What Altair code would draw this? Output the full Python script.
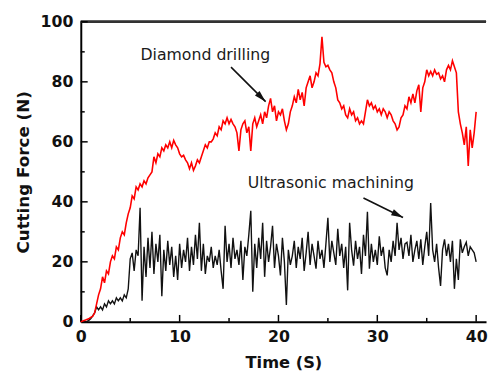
import math
import altair as alt
import pandas as pd

# ---------------- data ----------------
STEP = 0.2  # seconds between samples (t = 0.0 ... 40.0)

red_force = [
    0, 0.3, 0.5, 0.8, 1.0,
    1.5, 1.8, 3, 6, 9,
    11, 15, 13, 17, 16,
    20, 22, 21, 25, 24,
    28, 30, 29, 33, 36,
    38, 42, 41, 45, 44,
    46, 45, 47, 46, 48,
    49, 50, 55, 53, 56,
    55, 58, 57, 59, 58,
    60, 58, 60.5, 59, 58,
    56, 55, 55.5, 54, 53,
    51, 53, 50.5, 52, 54,
    53, 55, 57, 59, 58,
    60, 60, 61, 63, 62,
    65, 64, 67, 66, 68,
    66, 67.5, 66, 65, 63,
    57, 64, 66, 67, 63,
    65, 57, 66, 68, 65,
    67, 69, 66, 70, 68,
    72, 74.5, 70, 72, 67,
    70, 69, 71, 67, 64,
    66, 70, 72, 75, 73,
    77.5, 74, 76.5, 72, 78,
    80, 82, 78, 80, 83,
    82, 86, 95, 86.5, 85,
    85.5, 84, 83, 80, 78,
    74, 73, 71, 72, 69,
    68, 71, 69, 70, 67,
    68, 66, 67, 66, 70,
    74, 72, 73, 71, 72,
    70, 71, 69, 71, 70,
    68, 70, 69, 67, 66,
    64, 65, 68, 69, 72,
    71, 75, 73, 76, 73,
    77, 79, 70, 78, 80,
    84, 82, 83.5, 82, 84,
    82.5, 83, 81, 82, 80,
    84, 85.5, 84, 87, 85,
    83, 70, 66, 63, 59,
    65, 52, 64, 58, 63,
    70,
]

black_force = [
    0, 0, 0, 0, 0.5,
    1, 2, 3, 5, 4,
    5, 4, 6, 5, 7,
    6, 7, 6, 8, 7,
    8, 7, 9, 8, 11,
    21, 23, 17, 24, 22,
    38, 7, 25, 15, 28,
    18, 30, 16, 26, 20,
    29, 8.5, 24, 17, 27,
    19, 25, 15, 22, 14,
    26, 18, 24, 20, 28,
    17, 25, 19, 29, 21,
    33, 17, 26, 16, 22,
    20, 25, 18, 22, 19,
    24, 17, 11, 32, 20,
    26, 18, 28, 21, 24,
    19, 27, 14, 25, 22,
    29, 37, 10, 26, 18,
    28, 21, 33, 15, 27,
    20, 25, 32, 18, 26,
    22, 15.5, 28, 20, 5.6,
    24, 19, 22, 27, 18,
    25, 21, 28, 17, 23,
    30, 19, 26, 22, 17.7,
    27, 21, 24, 18, 26,
    34.7, 20, 27, 23, 19,
    31, 22, 26, 18, 25,
    10.5, 33, 24, 18.7, 27,
    21, 25, 16, 29, 22,
    36.7, 17.7, 26, 20, 24,
    19, 28.5, 22, 25, 18,
    15.5, 24, 20, 27, 22,
    33, 24, 28, 21, 26,
    26.5, 22, 29, 20, 24,
    27, 21, 27.5, 19, 25,
    30, 22, 39.6, 24, 20,
    26, 18, 12, 24, 27.5,
    22, 26, 20, 27, 11,
    21, 14, 27.5, 23, 25,
    26.5, 22, 25, 24, 23,
    20,
]

time_red = [round(i * STEP, 1) for i in range(len(red_force))]
time_black = [round(i * STEP, 1) for i in range(len(black_force))]

x_tick_values = [0, 10, 20, 30, 40]
x_minor_ticks = [5, 15, 25, 35]
y_tick_values = [0, 20, 40, 60, 80, 100]
y_minor_ticks = [10, 30, 50, 70, 90]

label_text = ["Diamond drilling", "Ultrasonic machining"]
label_t = [12.6, 25.3]
label_v = [88.9, 46.2]
arrow_t0 = [15.2, 28.6]
arrow_v0 = [84.9, 41.3]
arrow_t1 = [18.7, 32.6]
arrow_v1 = [73.4, 34.8]

# ---------------- layout ----------------
W, H = 412, 305
XMAX = 41.0
YMAX = 100
FONT = "DejaVu Sans"

px_x = W / XMAX
px_y = H / YMAX
angles = []
for a, b, c, d in zip(arrow_t0, arrow_v0, arrow_t1, arrow_v1):
    dx = (c - a) * px_x
    dy = -(d - b) * px_y  # screen y grows downward
    angles.append(math.degrees(math.atan2(dx, -dy)) % 360)

red_df = pd.DataFrame({"t": time_red, "v": red_force})
black_df = pd.DataFrame({"t": time_black, "v": black_force})
lab_df = pd.DataFrame({"t": label_t, "v": label_v, "txt": label_text})
arr_df = pd.DataFrame({"t": arrow_t0, "v": arrow_v0, "t2": arrow_t1, "v2": arrow_v1})
head_df = pd.DataFrame({"t": arrow_t1, "v": arrow_v1, "ang": angles})
xmaj_df = pd.DataFrame({"t": x_tick_values})
xmin_df = pd.DataFrame({"t": x_minor_ticks})
ymaj_df = pd.DataFrame({"v": y_tick_values})
ymin_df = pd.DataFrame({"v": y_minor_ticks})

xs = alt.Scale(domain=[0, XMAX], nice=False, zero=False)
ys = alt.Scale(domain=[0, YMAX], nice=False, zero=False)
xaxis = alt.Axis(values=x_tick_values, format="d", labelPadding=7,
                 titlePadding=10, labelFlush=False)
yaxis = alt.Axis(values=y_tick_values, format="d", labelPadding=8,
                 titlePadding=8, labelFlush=False, titleFontSize=17)


def X(f="t"):
    return alt.X(f, type="quantitative", scale=xs, axis=xaxis, title="Time (S)")


def Y(f="v"):
    return alt.Y(f, type="quantitative", scale=ys, axis=yaxis, title="Cutting Force (N)")


red = alt.Chart(red_df).mark_line(color="#ff0000", strokeWidth=1.6).encode(x=X(), y=Y())
black = alt.Chart(black_df).mark_line(color="#111111", strokeWidth=1.4).encode(x=X(), y=Y())

labels = alt.Chart(lab_df).mark_text(
    font=FONT, fontSize=16, color="#1a1a1a", baseline="middle", align="center"
).encode(x=X(), y=Y(), text="txt:N")

shafts = alt.Chart(arr_df).mark_rule(color="#111111", strokeWidth=1.6).encode(
    x=X(), y=Y(), x2="t2", y2="v2")

heads = alt.Chart(head_df).mark_point(
    shape="M0,0L0.55,2L-0.55,2Z", filled=True, size=144, color="#111111", opacity=1
).encode(x=X(), y=Y(), angle=alt.Angle("ang:Q", scale=None))

xmaj = alt.Chart(xmaj_df).mark_rule(color="black", strokeWidth=1.5).encode(
    x=X(), y=alt.value(H), y2=alt.value(H - 7))
xmin = alt.Chart(xmin_df).mark_rule(color="black", strokeWidth=1.5).encode(
    x=X(), y=alt.value(H), y2=alt.value(H - 4))
ymaj = alt.Chart(ymaj_df).mark_rule(color="black", strokeWidth=1.5).encode(
    y=Y(), x=alt.value(0), x2=alt.value(7))
ymin = alt.Chart(ymin_df).mark_rule(color="black", strokeWidth=1.5).encode(
    y=Y(), x=alt.value(0), x2=alt.value(4))

top_border = alt.Chart(xmaj_df).mark_rule(color="#333333", strokeWidth=2).encode(
    x=alt.value(0), x2=alt.value(W), y=alt.value(0))

chart = alt.layer(
    top_border, xmaj, xmin, ymaj, ymin, black, red, labels, shafts, heads
).properties(
    width=W, height=H,
    autosize=alt.AutoSizeParams(type="none"),
    padding={"left": 74, "top": 11, "right": 2, "bottom": 53},
    background="white",
).configure_view(
    stroke=None
).configure_axis(
    grid=False, ticks=False,
    domainColor="black", domainWidth=2,
    labelFont=FONT, labelFontSize=16, labelFontWeight="bold", labelColor="#111111",
    titleFont=FONT, titleFontSize=16.5, titleFontWeight="bold", titleColor="#111111",
)

chart.save("out.html", embed_options={"renderer": "svg", "actions": False})
